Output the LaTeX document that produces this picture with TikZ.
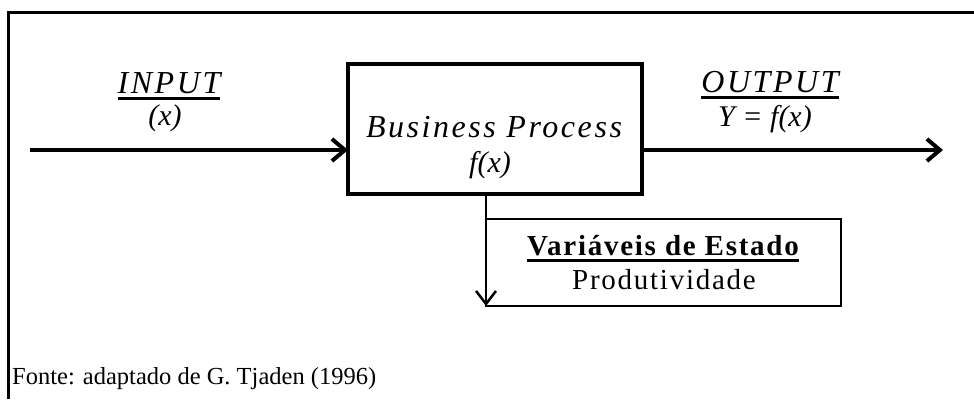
\documentclass[tikz,border=0pt]{standalone}
\usepackage{fontspec}
\setmainfont{Liberation Serif}
\newfontfamily\spaced[LetterSpace=8]{Liberation Serif}
\newfontfamily\statefont[LetterSpace=6]{Liberation Serif}
\usetikzlibrary{arrows.meta}
\newcommand{\thickul}[1]{\setbox0\hbox{#1}\rlap{\rule[-7pt]{\wd0}{2.6pt}}\box0}
\tikzset{procbox/.style={
  rectangle,
  draw,line width=3.2pt,outer sep=0pt,
  minimum width=294pt,minimum height=130pt}}
\tikzset{statebox/.style={
  rectangle,
  draw,line width=2.5pt,outer sep=0pt,
  minimum width=355pt,minimum height=87pt}}
\tikzset{flowlabel/.style={anchor=base,inner sep=0pt,font=\itshape\fontsize{30}{36}\selectfont}}
\tikzset{statelabel/.style={anchor=base,inner sep=0pt,font=\statefont\fontsize{29}{34}\selectfont}}
\tikzset{srclabel/.style={anchor=base west,inner sep=0pt,font=\fontsize{24.5}{30}\selectfont}}
\tikzset{flow/.style={line width=4pt,-{Straight Barb[length=13pt,width=22pt]}}}

\begin{document}
\begin{tikzpicture}[x=1pt,y=-1pt]
  \useasboundingbox (0,0) rectangle (974,399);
  \draw[line width=3pt] (8,399) -- (8,12) -- (974,12);
  \node[procbox] (proc) at (495,129) {};
  \node[statebox] (state) at (663.5,262.5) {};
  \foreach \n/\p/\l in {
      inhead/{(169,93)}/{\thickul{\spaced\fontsize{32}{38}\selectfont INPUT}},
      inarg/{(165,125)}/{(x)},
      outhead/{(770,92)}/{\thickul{\spaced\fontsize{32}{38}\selectfont OUTPUT}},
      outarg/{(765,126)}/{Y = f(x)},
      procname/{(494,137)}/{\spaced\fontsize{32}{38}\selectfont Business Process},
      procarg/{(490,172)}/{f(x)} }
    \node[flowlabel] (\n) at \p {\l};
  \node[statelabel] (statehead) at (663,255) {\thickul{\bfseries Variáveis de Estado}};
  \node[statelabel] (stateval) at (664,289) {Produtividade};
  \node[srclabel] (src) at (12,384) {Fonte: adaptado de G. Tjaden (1996)};
  \coordinate (in) at (30,150);
  \coordinate (out) at (943,150);
  \draw[flow] (in) -- (in -| proc.west);
  \draw[flow] (proc.east |- out) -- (out);
  \draw[line width=2.5pt,-{Straight Barb[length=13pt,width=20pt]}] (state.west |- proc.south) -- (state.south west);
\end{tikzpicture}
\end{document}
